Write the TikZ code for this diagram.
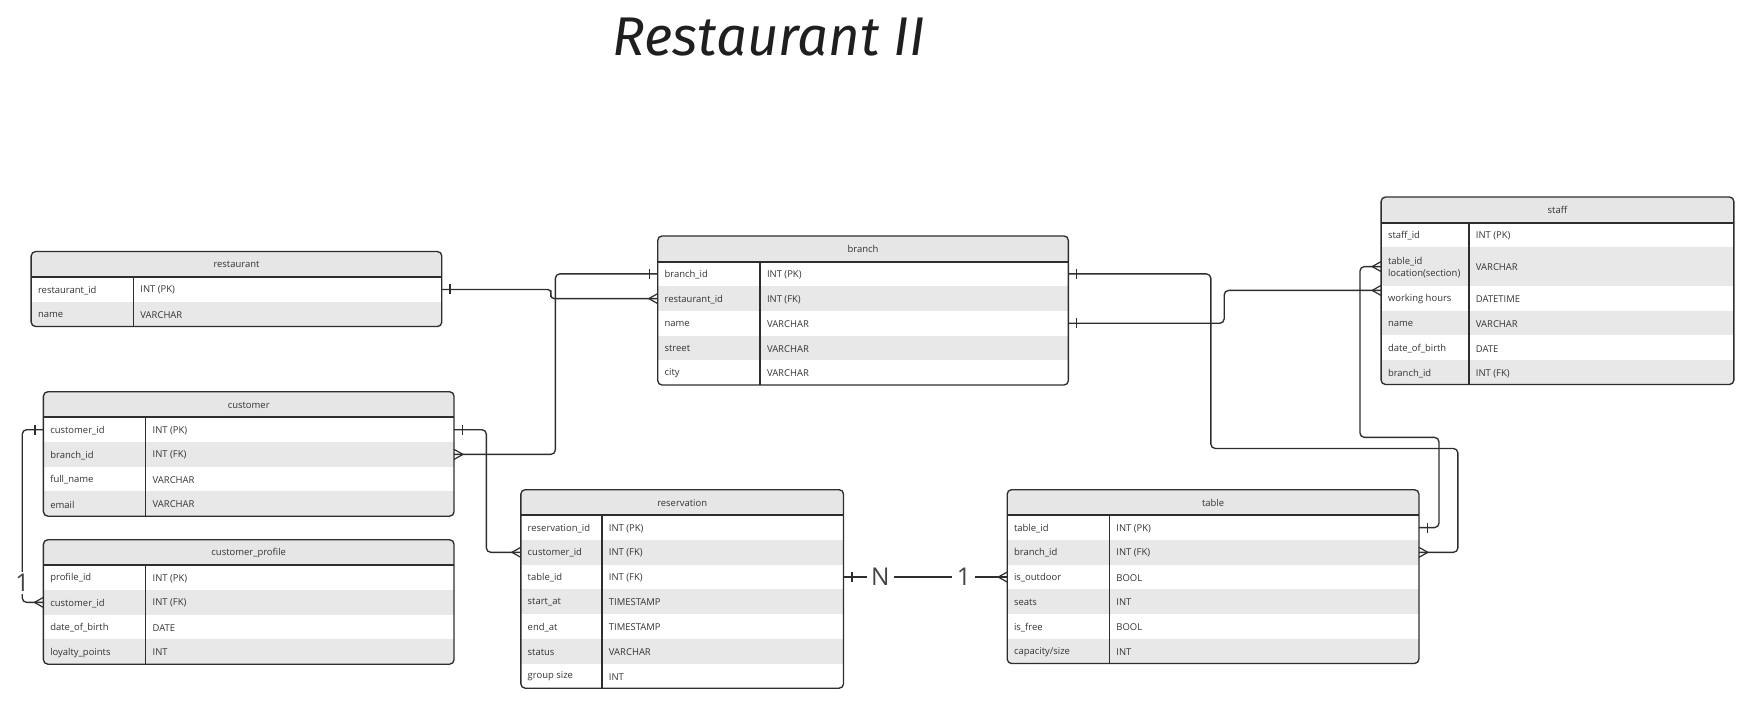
\documentclass[tikz,border=0pt]{standalone}
\usepackage{fontspec}
\setmainfont{Open Sans}
\newfontfamily\titlefont{Fira Sans}
\usetikzlibrary{calc,fit}
\definecolor{hdrgray}{HTML}{E6E6E6}
\definecolor{rowgray}{HTML}{E8E8E8}
\definecolor{ink}{HTML}{2E2E2E}
\definecolor{txt}{HTML}{333333}
\definecolor{lbl}{HTML}{444444}
\tikzset{
  erbox/.style={draw=ink, line width=1.2pt, rounded corners=4pt, inner sep=0pt},
  fldtxt/.style={font=\fontsize{8.5}{10.5}\selectfont, text=txt, inner sep=0pt, anchor=west, align=left},
  hdrtxt/.style={font=\fontsize{8.5}{10.5}\selectfont, text=txt, inner sep=0pt},
  hdrline/.style={draw=ink, line width=1.8pt},
  divline/.style={draw=ink, line width=1.2pt},
  conn/.style={draw=ink, line width=1.2pt, rounded corners=4pt},
  card/.style={font=\fontsize{22}{22}\selectfont, text=lbl, fill=white, inner xsep=4pt, inner ysep=2pt},
  pics/onebar/.style={code={\draw[draw=ink, line width=1.2pt] (-7.5,-4.5) -- (-7.5,4.5);}},
  pics/crowmany/.style={code={\draw[draw=ink, line width=1.1pt, line join=miter] (0,-4.5) -- (-8,0) -- (0,4.5);}},
}
% name, left, top, right, bottom, divider, title, rows
\newcommand{\ertable}[8]{%
  \begin{scope}
    \clip[rounded corners=4pt] (#2,#3) rectangle (#4,#5);
    \fill[hdrgray] (#2,#3) rectangle (#4,#3+23);
    \pgfmathsetmacro\ertTmp{#3+23}\global\let\ertY\ertTmp
    \foreach \ertF/\ertT/\ertH [count=\ertI] in {#8} {
      \pgfmathsetmacro\ertN{\ertY+\ertH}
      \pgfmathsetmacro\ertM{\ertY+\ertH/2}
      \ifodd\ertI\relax\else\fill[rowgray] (#2,\ertY) rectangle (#4,\ertN);\fi
      \node[fldtxt] at (#2+6,\ertM+0.7) {\ertF};
      \node[fldtxt] at (#6+6,\ertM+0.7) {\ertT};
      \coordinate (#1-\ertI-w) at (#2,\ertM);
      \coordinate (#1-\ertI-e) at (#4,\ertM);
      \global\let\ertY\ertN
    }
  \end{scope}
  \node[hdrtxt] (#1-title) at ({(#2+#4)/2},#3+12) {#7};
  \draw[hdrline] (#2,#3+23) -- (#4,#3+23);
  \draw[divline] (#6,#3+23) -- (#6,#5);
  \node[erbox, fit={(#2,#3) (#4,#5)}] (#1) {};
}
\begin{document}
\begin{tikzpicture}[x=1pt, y=-1pt]
\useasboundingbox (0,0) rectangle (1568,633);

\node[font=\titlefont\itshape\fontsize{49}{49}\selectfont, text=black!88] (title) at (691,33) {Restaurant II};

\ertable{restaurant}{28}{226}{397}{293.4}{120}{restaurant}{%
  restaurant\_id/INT (PK)/22.2, name/VARCHAR/22.2}

\ertable{branch}{591}{212}{960}{346}{683}{branch}{%
  branch\_id/INT (PK)/22.2, restaurant\_id/INT (FK)/22.2, name/VARCHAR/22.2,
  street/VARCHAR/22.2, city/VARCHAR/22.2}

\ertable{staff}{1241}{177}{1558}{345.5}{1320}{staff}{%
  staff\_id/INT (PK)/22.3, {table\_id\\location(section)}/VARCHAR/34.5,
  working hours/DATETIME/22.3, name/VARCHAR/22.3, date\_of\_birth/DATE/22.3,
  branch\_id/INT (FK)/22.3}

\ertable{customer}{39}{352}{408}{463.8}{131}{customer}{%
  customer\_id/INT (PK)/22.2, branch\_id/INT (FK)/22.2, full\_name/VARCHAR/22.2,
  email/VARCHAR/22.2}

\ertable{profile}{39}{485}{408}{596.8}{131}{customer\_profile}{%
  profile\_id/INT (PK)/22.2, customer\_id/INT (FK)/22.2, date\_of\_birth/DATE/22.2,
  loyalty\_points/INT/22.2}

\ertable{reservation}{468}{440}{758}{618.4}{541}{reservation}{%
  reservation\_id/INT (PK)/22.2, customer\_id/INT (FK)/22.2, table\_id/INT (FK)/22.2,
  start\_at/TIMESTAMP/22.2, end\_at/TIMESTAMP/22.2, status/VARCHAR/22.2,
  group size/INT/22.2}

\ertable{table}{905}{440}{1275}{596.2}{997}{table}{%
  table\_id/INT (PK)/22.2, branch\_id/INT (FK)/22.2, is\_outdoor/BOOL/22.2,
  seats/INT/22.2, is\_free/BOOL/22.2, {capacity/size}/INT/22.2}

% connectors
\draw[conn, rounded corners=3pt] (restaurant-1-e) -| (495,264) |- (branch-2-w);
\draw[conn] (branch-1-w) -| (499,300) |- (customer-2-e);
\draw[conn] (branch-1-e) -| (1088,403) -| (1310,450) |- (table-2-e);
\draw[conn] (branch-3-e) -| (1100,275) |- ($(staff-3-w)+(0,-7)$);
\draw[conn] (table-1-e) -| (1293,393) -| (1222,300) |- (staff-2-w);
\draw[conn] (customer-1-e) -| (437,440) |- (reservation-2-w);
\draw[conn] (customer-1-w) -| (20,460) |- (profile-2-w);
\draw[conn] (reservation-3-e) -- (table-3-w);

% cardinality labels
\node[card] (lbl-one-left) at (20,524) {1};
\node[card] (lbl-n) at (791,518.6) {N};
\node[card] (lbl-one-mid) at (866,518.6) {1};

% one marks
\pic[rotate=180] at (restaurant-1-e) {onebar};
\pic at (branch-1-w) {onebar};
\pic[rotate=180] at (branch-1-e) {onebar};
\pic[rotate=180] at (branch-3-e) {onebar};
\pic[rotate=180] at (table-1-e) {onebar};
\pic[rotate=180] at (customer-1-e) {onebar};
\pic at (customer-1-w) {onebar};
\pic[rotate=180] at (reservation-3-e) {onebar};

% many marks
\pic at (branch-2-w) {crowmany};
\pic[rotate=180] at (customer-2-e) {crowmany};
\pic[rotate=180] at (table-2-e) {crowmany};
\pic at ($(staff-3-w)+(0,-7)$) {crowmany};
\pic at (staff-2-w) {crowmany};
\pic at (reservation-2-w) {crowmany};
\pic at (profile-2-w) {crowmany};
\pic at (table-3-w) {crowmany};
\end{tikzpicture}
\end{document}
